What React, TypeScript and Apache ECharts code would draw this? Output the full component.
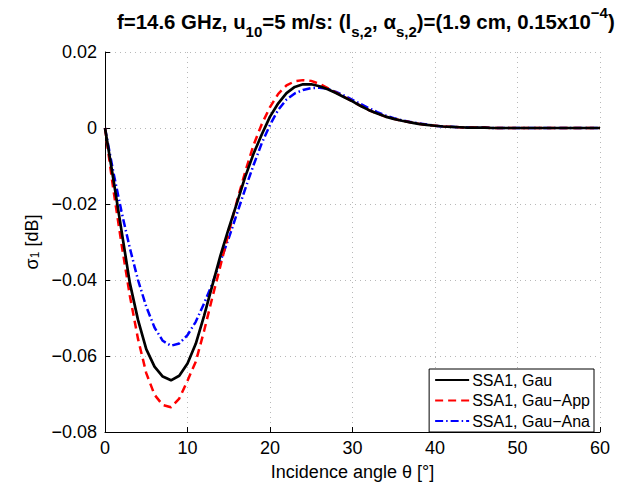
import React, { useEffect, useRef } from "react";
import * as echarts from "echarts";

const angles: number[] = Array.from({ length: 61 }, (_, i) => i);

const gau: number[] = [
  0, -0.0133, -0.027, -0.0407, -0.0505, -0.0582, -0.0628, -0.0654, -0.0664, -0.0652,
  -0.062, -0.0568, -0.0495, -0.0415, -0.0335, -0.0264, -0.0197, -0.0128, -0.0068, -0.0017,
  0.003, 0.0065, 0.0092, 0.0108, 0.0115, 0.0115, 0.011, 0.0102, 0.0092, 0.0081,
  0.007, 0.0058, 0.0047, 0.0038, 0.003, 0.0024, 0.0019, 0.0015, 0.0011, 0.0008,
  0.0006, 0.0004, 0.0003, 0.0002, 0.0001, 0.0001, 0.0001, 0, 0, 0,
  0, 0, 0, 0, 0, 0, 0, 0, 0, 0, 0,
];

const gauApp: number[] = [
  0, -0.016, -0.0305, -0.044, -0.0555, -0.0645, -0.0702, -0.0729, -0.0735, -0.0712,
  -0.0665, -0.0615, -0.0535, -0.0447, -0.0362, -0.0275, -0.0192, -0.0115, -0.0045, 0.001,
  0.0055, 0.009, 0.0112, 0.0123, 0.0126, 0.0124, 0.0116, 0.0105, 0.0093, 0.0082,
  0.007, 0.0058, 0.0047, 0.0038, 0.003, 0.0024, 0.0019, 0.0015, 0.0011, 0.0008,
  0.0006, 0.0004, 0.0003, 0.0002, 0.0001, 0.0001, 0.0001, 0, 0, 0,
  0, 0, 0, 0, 0, 0, 0, 0, 0, 0, 0,
];

const gauAna: number[] = [
  0, -0.0115, -0.022, -0.0315, -0.04, -0.047, -0.0525, -0.056, -0.0573, -0.0567,
  -0.0545, -0.051, -0.0462, -0.041, -0.035, -0.029, -0.0225, -0.016, -0.0098, -0.004,
  0.0008, 0.0048, 0.0075, 0.0091, 0.01, 0.0105, 0.0106, 0.0103, 0.0095, 0.0085,
  0.0074, 0.0063, 0.0052, 0.0042, 0.0033, 0.0026, 0.002, 0.0016, 0.0012, 0.0009,
  0.0006, 0.0004, 0.0003, 0.0002, 0.0001, 0.0001, 0.0001, 0, 0, 0,
  0, 0, 0, 0, 0, 0, 0, 0, 0, 0, 0,
];

const seriesNames: string[] = ["SSA1, Gau", "SSA1, Gau\u2212App", "SSA1, Gau\u2212Ana"];

const FONT = "Liberation Sans, Arial, Helvetica, sans-serif";

export default function App() {
  const ref = useRef<HTMLDivElement>(null);
  useEffect(() => {
    if (!ref.current) return;
    const chart = echarts.init(ref.current, null, { renderer: "svg" });
    const pair = (ys: number[]) => angles.map((a, i) => [a, ys[i]]);
    const option: any = {
      animation: false,
      backgroundColor: "#ffffff",
      title: {
        left: 112,
        top: 0,
        text:
          "f=14.6 GHz, u{sub|10}=5 m/s: (l{sub|s,2}, \u03b1{sub|s,2})=(1.9 cm, 0.15x10{sup|\u22124})",
        textStyle: {
          fontFamily: FONT,
          fontSize: 20.4,
          fontWeight: "bold",
          color: "#000",
          lineHeight: 34,
          rich: {
            sub: {
              fontFamily: FONT,
              fontSize: 15,
              fontWeight: "bold",
              color: "#000",
              lineHeight: 15,
              verticalAlign: "bottom",
            },
            sup: {
              fontFamily: FONT,
              fontSize: 15,
              fontWeight: "bold",
              color: "#000",
              lineHeight: 15,
              verticalAlign: "top",
            },
          },
        },
      },
      grid: { left: 105, right: 41, top: 52, bottom: 51, containLabel: false },
      legend: {
        orient: "vertical",
        right: 47,
        top: 369,
        backgroundColor: "#ffffff",
        borderColor: "#000",
        borderWidth: 1,
        borderRadius: 0,
        padding: [3, 4, 3, 5],
        itemWidth: 34,
        itemHeight: 14,
        itemGap: 4.5,
        itemStyle: { opacity: 0 },
        textStyle: { fontFamily: FONT, fontSize: 16, color: "#000", padding: [0, 0, 0, -2] },
        data: seriesNames,
      },
      xAxis: {
        type: "value",
        min: 0,
        max: 60,
        interval: 10,
        name: "Incidence angle \u03b8 [\u00b0]",
        nameLocation: "middle",
        nameGap: 31,
        nameTextStyle: { fontFamily: FONT, fontSize: 18, color: "#000" },
        axisLine: { show: true, onZero: false, lineStyle: { color: "#000", width: 1 } },
        axisTick: { show: true, inside: true, length: 5, lineStyle: { color: "#000" } },
        axisLabel: { fontFamily: FONT, fontSize: 18, color: "#000", margin: 7 },
        splitLine: { show: true, lineStyle: { color: "#b8b8b8", type: [1, 4], width: 1 } },
      },
      yAxis: {
        type: "value",
        min: -0.08,
        max: 0.02,
        interval: 0.02,
        name: "\u03c3{sub|1} [dB]",
        nameLocation: "middle",
        nameGap: 62,
        nameTextStyle: {
          fontFamily: FONT,
          fontSize: 18,
          color: "#000",
          rich: {
            sub: { fontFamily: FONT, fontSize: 12, color: "#000", lineHeight: 12, verticalAlign: "bottom" },
          },
        },
        axisLine: { show: true, onZero: false, lineStyle: { color: "#000", width: 1 } },
        axisTick: { show: true, inside: true, length: 5, lineStyle: { color: "#000" } },
        axisLabel: {
          fontFamily: FONT,
          fontSize: 18,
          color: "#000",
          margin: 8,
          formatter: (v: number) => (Math.abs(v) < 1e-9 ? "0" : v.toFixed(2).replace("-", "\u2212")),
        },
        splitLine: { show: true, lineStyle: { color: "#b8b8b8", type: [1, 4], width: 1 } },
      },
      series: [
        {
          name: seriesNames[0],
          type: "line",
          data: pair(gau),
          showSymbol: false,
          symbol: "none",
          lineStyle: { color: "#000000", width: 2.7, type: "solid" },
          itemStyle: { color: "#000000" },
          z: 3,
        },
        {
          name: seriesNames[1],
          type: "line",
          data: pair(gauApp),
          showSymbol: false,
          symbol: "none",
          lineStyle: { color: "#ff0000", width: 2.5, type: [8, 5] },
          itemStyle: { color: "#ff0000" },
          z: 2,
        },
        {
          name: seriesNames[2],
          type: "line",
          data: pair(gauAna),
          showSymbol: false,
          symbol: "none",
          lineStyle: { color: "#0000ff", width: 2.5, type: [8, 3, 1.5, 3] },
          itemStyle: { color: "#0000ff" },
          z: 1,
        },
      ],
    };
    chart.setOption(option);
    return () => chart.dispose();
  }, []);
  return (
    <div
      ref={ref}
      style={{ position: "fixed", left: 0, top: 0, width: 641, height: 486, background: "#fff" }}
    />
  );
}
